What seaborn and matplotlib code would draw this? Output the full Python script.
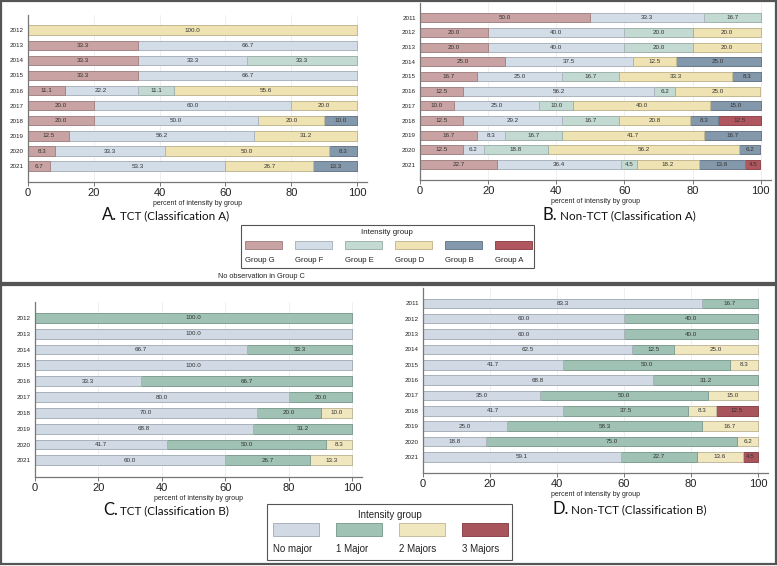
import matplotlib
matplotlib.use("Agg")
import matplotlib.pyplot as plt
import matplotlib.colors as mcolors
from matplotlib.patches import Rectangle
import pandas as pd
import seaborn as sns

sns.set_theme(style="white")
plt.rcParams['font.family'] = ['Liberation Sans', 'DejaVu Sans']

# years shown in each panel
years_tct = ['2012', '2013', '2014', '2015', '2016', '2017', '2018', '2019', '2020', '2021']
years_non = ['2011', '2012', '2013', '2014', '2015', '2016', '2017', '2018', '2019', '2020', '2021']

# A. TCT (Classification A), percent per intensity group
tct_a_g = [0, 33.3, 33.3, 33.3, 11.1, 20.0, 20.0, 12.5, 8.3, 6.7]
tct_a_f = [0, 66.7, 33.3, 66.7, 22.2, 60.0, 50.0, 56.2, 33.3, 53.3]
tct_a_e = [0, 0, 33.3, 0, 11.1, 0, 0, 0, 0, 0]
tct_a_d = [100.0, 0, 0, 0, 55.6, 20.0, 20.0, 31.2, 50.0, 26.7]
tct_a_b = [0, 0, 0, 0, 0, 0, 10.0, 0, 8.3, 13.3]
tct_a_a = [0, 0, 0, 0, 0, 0, 0, 0, 0, 0]

# B. Non-TCT (Classification A)
non_a_g = [50.0, 20.0, 20.0, 25.0, 16.7, 12.5, 10.0, 12.5, 16.7, 12.5, 22.7]
non_a_f = [33.3, 40.0, 40.0, 37.5, 25.0, 56.2, 25.0, 29.2, 8.3, 6.2, 36.4]
non_a_e = [16.7, 20.0, 20.0, 0, 16.7, 6.2, 10.0, 16.7, 16.7, 18.8, 4.5]
non_a_d = [0, 20.0, 20.0, 12.5, 33.3, 25.0, 40.0, 20.8, 41.7, 56.2, 18.2]
non_a_b = [0, 0, 0, 25.0, 8.3, 0, 15.0, 8.3, 16.7, 6.2, 13.6]
non_a_a = [0, 0, 0, 0, 0, 0, 0, 12.5, 0, 0, 4.5]

# C. TCT (Classification B)
tct_b_none = [0, 100.0, 66.7, 100.0, 33.3, 80.0, 70.0, 68.8, 41.7, 60.0]
tct_b_one = [100.0, 0, 33.3, 0, 66.7, 20.0, 20.0, 31.2, 50.0, 26.7]
tct_b_two = [0, 0, 0, 0, 0, 0, 10.0, 0, 8.3, 13.3]
tct_b_three = [0, 0, 0, 0, 0, 0, 0, 0, 0, 0]

# D. Non-TCT (Classification B)
non_b_none = [83.3, 60.0, 60.0, 62.5, 41.7, 68.8, 35.0, 41.7, 25.0, 18.8, 59.1]
non_b_one = [16.7, 40.0, 40.0, 12.5, 50.0, 31.2, 50.0, 37.5, 58.3, 75.0, 22.7]
non_b_two = [0, 0, 0, 25.0, 8.3, 0, 15.0, 8.3, 16.7, 6.2, 13.6]
non_b_three = [0, 0, 0, 0, 0, 0, 0, 12.5, 0, 0, 4.5]

groups_a = ['Group G', 'Group F', 'Group E', 'Group D', 'Group B', 'Group A']
colors_a = ['#c9a3a3', '#d3dde8', '#c3dad2', '#efe3b3', '#8498ac', '#b0565f']
groups_b = ['No major', '1 Major', '2 Majors', '3 Majors']
colors_b = ['#d0d9e4', '#9fc2b5', '#f0e7bf', '#a8545c']

W, H = 777, 566


def darker(c, f=0.82):
    r, g, b = mcolors.to_rgb(c)
    return (r * f, g * f, b * f)


def px_axes(fig, l, r, t, b):
    return fig.add_axes([l / W, 1 - b / H, (r - l) / W, (b - t) / H])


def draw_panel(ax, years, series, groups, colors):
    df = pd.DataFrame(dict(zip(groups, series)), index=years)
    cum = df.cumsum(axis=1)
    # draw widest (cumulative) bars first, narrower ones on top
    for name, col in reversed(list(zip(groups, colors))):
        sns.barplot(x=cum[name].values, y=years, order=years, orient='h',
                    color=col, saturation=1, width=0.62,
                    edgecolor=darker(col), linewidth=0.7, ax=ax)
    for p in ax.patches:
        if p.get_width() <= 0:
            p.set_linewidth(0)
    for name in groups:
        for i, yr in enumerate(years):
            v = df.loc[yr, name]
            if v > 0:
                ax.text(cum.loc[yr, name] - v / 2, i, f"{v:.1f}",
                        ha='center', va='center', fontsize=4.5, color='#333333')
    ax.set_xlim(0, 103)
    ax.set_ylim(len(years) - 1 + 1.05, -1.0)
    ax.set_xticks([0, 20, 40, 60, 80, 100])
    ax.xaxis.grid(True, color='#ececec', lw=0.6)
    ax.set_axisbelow(True)
    sns.despine(ax=ax)
    for s in ['left', 'bottom']:
        ax.spines[s].set_color('#777777')
        ax.spines[s].set_linewidth(0.9)
    ax.tick_params(axis='y', length=0, labelsize=4.5, pad=3, labelcolor='#222222')
    ax.tick_params(axis='x', length=3, width=0.7, labelsize=8, pad=1,
                   color='#777777', bottom=True, labelcolor='#222222')
    ax.set_xlabel('percent of intensity by group', fontsize=5, labelpad=1.5, color='#222222')
    ax.set_ylabel('')


fig = plt.figure(figsize=(W / 100, H / 100), dpi=100)

ax_a = px_axes(fig, 28, 367, 15, 182)
draw_panel(ax_a, years_tct, [tct_a_g, tct_a_f, tct_a_e, tct_a_d, tct_a_b, tct_a_a], groups_a, colors_a)
ax_b = px_axes(fig, 420, 771, 3, 180)
draw_panel(ax_b, years_non, [non_a_g, non_a_f, non_a_e, non_a_d, non_a_b, non_a_a], groups_a, colors_a)
ax_c = px_axes(fig, 35, 362, 302, 477)
draw_panel(ax_c, years_tct, [tct_b_none, tct_b_one, tct_b_two, tct_b_three], groups_b, colors_b)
ax_d = px_axes(fig, 423, 768, 288, 473)
draw_panel(ax_d, years_non, [non_b_none, non_b_one, non_b_two, non_b_three], groups_b, colors_b)

# overlay in pixel coordinates for frames, panel titles and legends
ov = fig.add_axes([0, 0, 1, 1])
ov.set_xlim(0, W)
ov.set_ylim(H, 0)
ov.axis('off')
ov.patch.set_alpha(0)

ov.add_patch(Rectangle((1, 1), 775, 282, fill=False, ec='#555555', lw=1.6))
ov.add_patch(Rectangle((1, 285), 775, 279, fill=False, ec='#555555', lw=1.6))

title_font = ['Lato', 'DejaVu Sans']
titles = [(102, 215, 'A.', 'TCT (Classification A)'),
          (543, 215, 'B.', 'Non-TCT (Classification A)'),
          (103, 510, 'C.', 'TCT (Classification B)'),
          (552, 509, 'D.', 'Non-TCT (Classification B)')]
renderer = fig.canvas.get_renderer()
for x1, y, letter, rest in titles:
    t = ov.text(x1, y, letter, fontsize=12, ha='left', va='center', family=title_font, color='#111111')
    bb = t.get_window_extent(renderer=renderer)
    x_end = ov.transData.inverted().transform((bb.x1, bb.y0))[0]
    ov.text(x_end + 2.5, y + 1, rest, fontsize=8.4, ha='left', va='center', family=title_font, color='#111111')

# legend, classification A
ov.add_patch(Rectangle((241, 225), 293, 43, fill=False, ec='#555555', lw=0.8))
ov.text(387, 233, 'Intensity group', fontsize=5.7, ha='center', va='center', color='#222222')
for i, (name, col) in enumerate(zip(groups_a, colors_a)):
    x0 = 245 + 50 * i
    ov.add_patch(Rectangle((x0, 241), 37, 8, fc=col, ec=darker(col), lw=0.7))
    ov.text(x0, 261, name, fontsize=5.6, ha='left', va='center', color='#222222')
ov.text(218, 276, 'No observation in Group C', fontsize=5.3, ha='left', va='center', color='#222222')

# legend, classification B
ov.add_patch(Rectangle((267, 504), 245, 56, fill=False, ec='#555555', lw=0.8))
ov.text(390, 515, 'Intensity group', fontsize=7, ha='center', va='center', color='#222222')
for i, (name, col) in enumerate(zip(groups_b, colors_b)):
    x0 = 273 + 63 * i
    ov.add_patch(Rectangle((x0, 523), 46, 13, fc=col, ec=darker(col), lw=0.7))
    ov.text(x0, 549, name, fontsize=7, ha='left', va='center', color='#222222')

fig.savefig('out.png', dpi=100)
